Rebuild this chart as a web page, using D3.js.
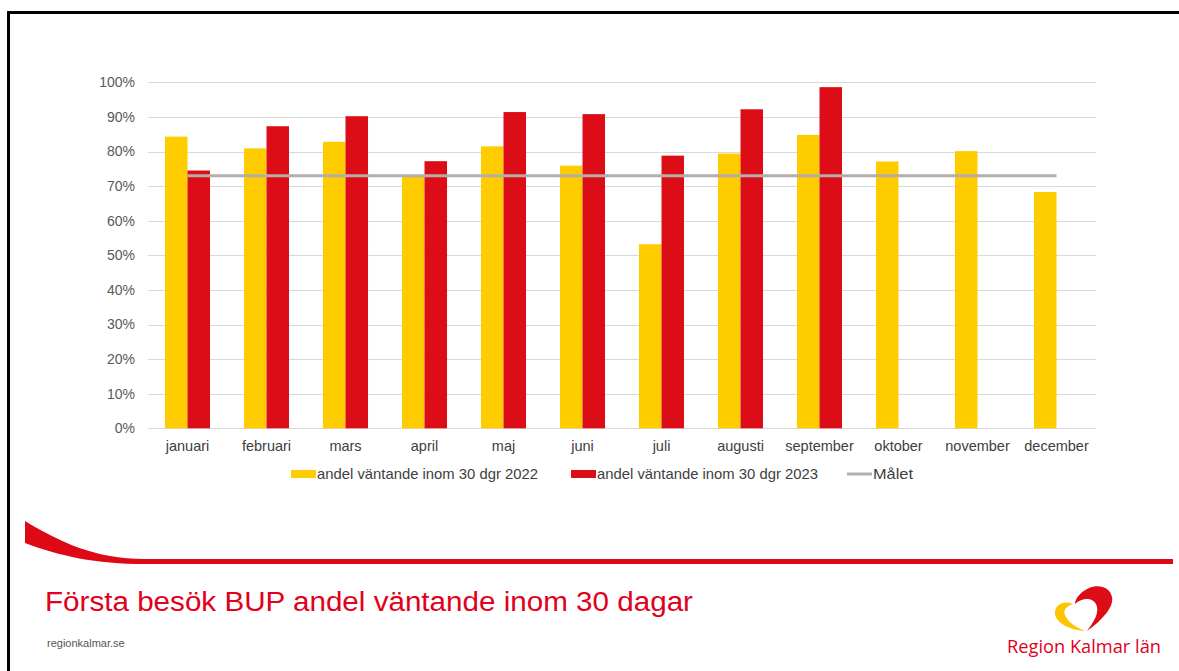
<!DOCTYPE html>
<html><head><meta charset="utf-8">
<script src="https://cdn.jsdelivr.net/npm/d3@7"></script>
<style>
html,body{margin:0;padding:0;background:#fff;}
svg{display:block;font-family:"Liberation Sans",Arial,sans-serif;}
</style></head>
<body>
<svg id="chart" width="1179" height="671"></svg>
<script>
const categories = ["januari","februari","mars","april","maj","juni","juli","augusti","september","oktober","november","december"];
const values2022 = [84.3, 80.9, 82.8, 73.0, 81.5, 75.9, 53.2, 79.4, 84.8, 77.1, 80.1, 68.3];
const values2023 = [74.5, 87.3, 90.2, 77.2, 91.4, 90.8, 78.8, 92.2, 98.6, null, null, null];
const goal = [73, 73, 73, 73, 73, 73, 73, 73, 73, 73, 73, 73];
const yTicks = [0,10,20,30,40,50,60,70,80,90,100];
const seriesNames = ["andel väntande inom 30 dgr 2022","andel väntande inom 30 dgr 2023","Målet"];
const titleText = "Första besök BUP andel väntande inom 30 dagar";

const svg = d3.select("#chart");
const colY = "#ffcc00", colR = "#dc0d16", colG = "#b5aea8", txt = "#404040";

// frame
svg.append("line").attr("x1",7).attr("x2",1179).attr("y1",12.5).attr("y2",12.5).attr("stroke","#000").attr("stroke-width",3);
svg.append("line").attr("x1",8.5).attr("x2",8.5).attr("y1",11).attr("y2",671).attr("stroke","#000").attr("stroke-width",3);

const x = d3.scaleBand().domain(categories).range([148,1096]).paddingInner(0.43).paddingOuter(0.215);
const y = d3.scaleLinear().domain([0,100]).range([428.3,82.3]);

// gridlines
svg.append("g").selectAll("line").data(yTicks).join("line")
  .attr("x1",148).attr("x2",1096).attr("y1",d=>Math.round(y(d))+0.5).attr("y2",d=>Math.round(y(d))+0.5)
  .attr("stroke","#d9d9d9").attr("stroke-width",1);

// y tick labels
const yAxis = d3.axisLeft(y).tickValues(yTicks).tickFormat(d=>d+"%").tickSize(0).tickPadding(0);
const gy = svg.append("g").attr("transform","translate(135,0)").call(yAxis);
gy.select(".domain").remove();
gy.selectAll("text").attr("fill","#595959").style("font-size","14px").style("font-family","'Liberation Sans',Arial,sans-serif");

// x labels
const xAxis = d3.axisBottom(x).tickSize(0).tickPadding(0);
const gx = svg.append("g").attr("transform","translate(0,441)").call(xAxis);
gx.select(".domain").remove();
gx.selectAll("text").attr("fill",txt).style("font-size","14.5px").style("font-family","'Liberation Sans',Arial,sans-serif");

const bw = x.bandwidth()/2;
svg.append("g").selectAll("rect").data(values2022).join("rect")
  .attr("x",(d,i)=>x(categories[i])).attr("width",bw)
  .attr("y",d=>y(d)).attr("height",d=>y(0)-y(d)).attr("fill",colY);
svg.append("g").selectAll("rect").data(values2023.map((v,i)=>({v,i})).filter(d=>d.v!=null)).join("rect")
  .attr("x",d=>x(categories[d.i])+bw).attr("width",bw)
  .attr("y",d=>y(d.v)).attr("height",d=>y(0)-y(d.v)).attr("fill",colR);

// goal line
const line = d3.line().x((d,i)=>x(categories[i])+x.bandwidth()/2).y(d=>y(d));
svg.append("path").datum(goal).attr("d",line).attr("fill","none").attr("stroke",colG).attr("stroke-width",3);

// legend
const lg = svg.append("g").style("font-size","15px");
const legendItems = [
  {name:seriesNames[0], sx:291, type:"rect", col:colY, w:221},
  {name:seriesNames[1], sx:571, type:"rect", col:colR, w:221},
  {name:seriesNames[2], sx:847, type:"line", col:colG, w:40}
];
legendItems.forEach(it=>{
  if(it.type==="rect") lg.append("rect").attr("x",it.sx).attr("y",470).attr("width",25).attr("height",8).attr("fill",it.col);
  else lg.append("line").attr("x1",it.sx).attr("x2",it.sx+25).attr("y1",474).attr("y2",474).attr("stroke",it.col).attr("stroke-width",3);
  lg.append("text").attr("x",it.sx+26).attr("y",479).attr("fill",txt)
    .attr("textLength",it.w).attr("lengthAdjust","spacingAndGlyphs").text(it.name);
});

// swoosh
svg.append("path")
  .attr("d","M25,521 C60,542 95,559 145,559 L1173,559 L1173,564 L145,564 C95,564 60,556 25,543 Z")
  .attr("fill","#dd0a16");

// title
svg.append("text").attr("x",45).attr("y",611).attr("fill","#e2001a")
  .style("font-size","27px").attr("textLength",648).attr("lengthAdjust","spacingAndGlyphs").text(titleText);
svg.append("text").attr("x",47).attr("y",647).attr("fill","#555").style("font-size","11px").text("regionkalmar.se");

// logo
svg.append("path").attr("fill","#dc0d16")
  .attr("d","M1087,631 C1104,619 1114,606 1112,597 C1110,587 1099,584 1089,588 C1080,592 1075,599 1075,604 C1082,598 1092,597 1096,604 C1100,612 1094,622 1087,631 Z");
svg.append("path").attr("fill","#fcc500")
  .attr("d","M1085,631 C1070,630 1056,623 1055,614 C1054,605 1064,600 1073,604 C1066,606 1062,611 1066,617 C1070,624 1078,628 1085,631 Z");
svg.append("text").attr("x",1007).attr("y",653).attr("fill","#e2001a")
  .style("font-family","'Open Sans','Noto Sans',sans-serif").style("font-size","18px")
  .attr("textLength",154).attr("lengthAdjust","spacingAndGlyphs").text("Region Kalmar län");
</script>
</body></html>
